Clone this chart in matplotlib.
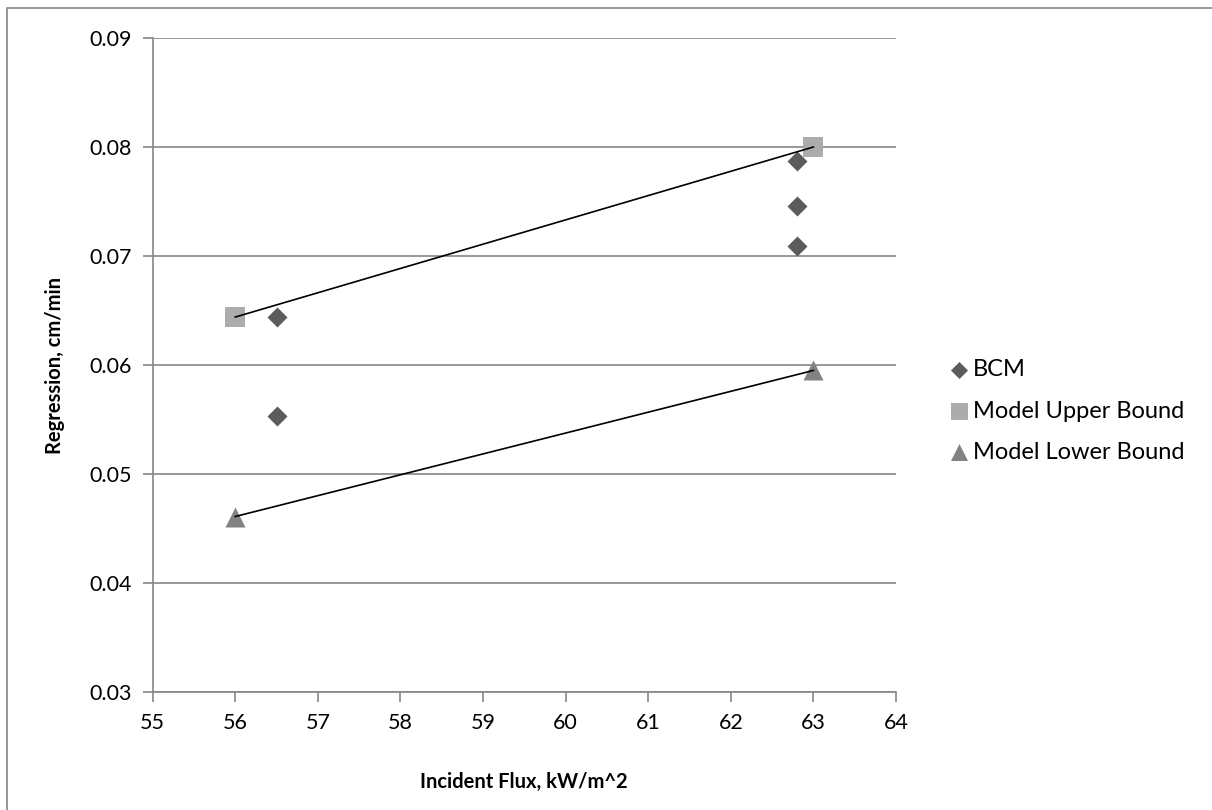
import matplotlib
matplotlib.use("Agg")
import matplotlib.pyplot as plt
from matplotlib.patches import Rectangle

# ── data
bcm_flux = [56.5, 56.5, 62.8, 62.8, 62.8]
bcm_regr = [0.0644, 0.0553, 0.0787, 0.0746, 0.0709]

upper_flux = [56.0, 63.0]
upper_regr = [0.0644, 0.0800]

lower_flux = [56.0, 63.0]
lower_regr = [0.0461, 0.0595]

x_ticks = list(range(55, 65))
y_ticks = [0.03, 0.04, 0.05, 0.06, 0.07, 0.08, 0.09]

# ── style
plt.rcParams['font.family'] = ['Lato', 'DejaVu Sans']
GRID = "#868686"
W, H = 1212, 810

fig = plt.figure(figsize=(W / 100, H / 100), dpi=100)
ax = fig.add_axes([152.7 / W, 1 - 692 / H, (896 - 152.7) / W, (692 - 38) / H])

# outer chart border (only left / top visible in the reference)
fig.patches.append(Rectangle((7 / W, -0.05), 1.2, 1 - 8 / H + 0.05,
                             transform=fig.transFigure, fill=False,
                             edgecolor=GRID, linewidth=1.2))

ax.scatter(bcm_flux, bcm_regr, marker="D", s=(10.2) ** 2, color="#5c5c5c",
           linewidths=0, zorder=3, label="BCM")
ax.scatter(upper_flux, upper_regr, marker="s", s=14.4 ** 2, color="#acacac",
           linewidths=0, zorder=3, label="Model Upper Bound")
ax.scatter(lower_flux, lower_regr, marker="^", s=14.4 ** 2, color="#828282",
           linewidths=0, zorder=3, label="Model Lower Bound")

# trend lines through the model bounds
ax.plot(upper_flux, upper_regr, color="black", lw=1.2, zorder=4)
ax.plot(lower_flux, lower_regr, color="black", lw=1.2, zorder=4)

ax.set_xlim(55, 64)
ax.set_ylim(0.03, 0.09)
ax.set_xticks(x_ticks)
ax.set_yticks(y_ticks)
ax.set_yticklabels([f"{v:.2f}" for v in y_ticks])
ax.grid(axis="y", color=GRID, lw=1.2, zorder=1)
ax.set_axisbelow(True)

for s in ("top", "right"):
    ax.spines[s].set_visible(False)
for s in ("left", "bottom"):
    ax.spines[s].set_color(GRID)
    ax.spines[s].set_linewidth(1.2)
ax.tick_params(colors=GRID, labelcolor="black", labelsize=15.5, length=7,
               width=1.2, direction="out")
ax.tick_params(axis="x", pad=8)
ax.tick_params(axis="y", pad=8)

fig.text(55 / W, 1 - 365 / H, "Regression, cm/min", rotation=90,
         ha="center", va="center", fontsize=14.5, fontweight="bold")
fig.text(524 / W, 1 - 782 / H, "Incident Flux, kW/m^2",
         ha="center", va="center", fontsize=14.5, fontweight="bold")

fig.legend(loc="center left", bbox_to_anchor=(948 / W, 1 - 411 / H),
           frameon=False, fontsize=17, handletextpad=0.15, handlelength=0.9,
           labelspacing=0.85, borderaxespad=0, borderpad=0,
           scatterpoints=1, markerscale=0.85)

fig.savefig("out.png", dpi=100)
